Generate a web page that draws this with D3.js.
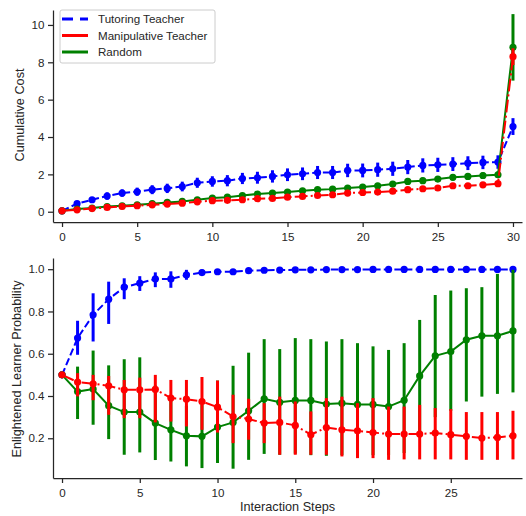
<!DOCTYPE html>
<html>
<head>
<meta charset="utf-8">
<script src="https://cdn.jsdelivr.net/npm/d3@7"></script>
<style>
  body { margin: 0; background: #fff; }
  text { font-family: "Liberation Sans", Arial, sans-serif; fill: #262626; }
</style>
</head>
<body>
<svg width="526" height="516"></svg>
<script>
// series names, legend order
const seriesNames = ["Tutoring Teacher", "Manipulative Teacher", "Random"];

// top panel: cumulative cost, steps 0..30
const costSteps = d3.range(31);
const costTutor = [0.05, 0.43, 0.64, 0.84, 1.0, 1.07, 1.18, 1.25, 1.35, 1.55, 1.62, 1.66, 1.78, 1.82, 1.89, 1.98,
  2.03, 2.1, 2.1, 2.21, 2.21, 2.25, 2.3, 2.39, 2.48, 2.51, 2.55, 2.6, 2.64, 2.66, 4.56];
const costTutorErr = [0, 0.1, 0.12, 0.2, 0.2, 0.22, 0.24, 0.25, 0.26, 0.27, 0.28, 0.3, 0.3, 0.32, 0.33, 0.34,
  0.34, 0.35, 0.35, 0.36, 0.37, 0.38, 0.38, 0.38, 0.38, 0.38, 0.37, 0.37, 0.36, 0.36, 0.45];
const costManip = [0.05, 0.1, 0.17, 0.23, 0.28, 0.32, 0.37, 0.41, 0.46, 0.53, 0.59, 0.61, 0.64, 0.7, 0.71, 0.78,
  0.82, 0.87, 0.91, 1.0, 1.03, 1.05, 1.1, 1.18, 1.23, 1.27, 1.39, 1.39, 1.44, 1.5, 8.3];
const costManipErr = [0, 0.03, 0.03, 0.04, 0.04, 0.04, 0.05, 0.05, 0.05, 0.05, 0.05, 0.05, 0.05, 0.06, 0.06, 0.06,
  0.06, 0.06, 0.06, 0.06, 0.07, 0.07, 0.07, 0.07, 0.07, 0.07, 0.07, 0.07, 0.07, 0.07, 0.45];
const costRandom = [0.05, 0.14, 0.2, 0.28, 0.32, 0.37, 0.43, 0.5, 0.55, 0.64, 0.73, 0.78, 0.87, 0.95, 1.0, 1.05,
  1.12, 1.18, 1.21, 1.27, 1.32, 1.39, 1.48, 1.62, 1.66, 1.75, 1.84, 1.89, 1.94, 1.98, 8.8];
const costRandomErr = [0, 0.05, 0.06, 0.07, 0.08, 0.08, 0.09, 0.1, 0.1, 0.11, 0.12, 0.12, 0.13, 0.13, 0.13, 0.14,
  0.14, 0.14, 0.15, 0.15, 0.15, 0.15, 0.16, 0.16, 0.16, 0.16, 0.16, 0.16, 0.17, 0.17, 1.78];

// bottom panel: enlightened learner probability, steps 0..29
const probSteps = d3.range(30);
const probTutor = [0.5, 0.674, 0.784, 0.858, 0.915, 0.934, 0.954, 0.954, 0.973, 0.984, 0.988, 0.988, 0.993, 0.995, 0.996,
  0.997, 0.997, 0.998, 0.998, 0.998, 0.999, 0.999, 0.999, 0.999, 0.999, 0.999, 0.999, 0.999, 0.999, 0.999];
const probTutorLo = [0.5, 0.595, 0.658, 0.741, 0.858, 0.897, 0.915, 0.912, 0.95, 0.97, 0.978, 0.978, 0.985, 0.99, 0.992,
  0.994, 0.994, 0.996, 0.996, 0.996, 0.998, 0.998, 0.998, 0.998, 0.998, 0.998, 0.998, 0.998, 0.998, 0.998];
const probTutorHi = [0.5, 0.756, 0.886, 0.941, 0.957, 0.967, 0.985, 0.99, 0.997, 0.998, 0.998, 0.998, 1, 1, 1,
  1, 1, 1, 1, 1, 1, 1, 1, 1, 1, 1, 1, 1, 1, 1];
const probManip = [0.5, 0.466, 0.458, 0.448, 0.429, 0.429, 0.431, 0.39, 0.385, 0.374, 0.347, 0.303, 0.291, 0.272, 0.275,
  0.261, 0.217, 0.251, 0.24, 0.235, 0.227, 0.22, 0.22, 0.22, 0.225, 0.217, 0.209, 0.201, 0.204, 0.212];
const probManipLo = [0.5, 0.398, 0.38, 0.311, 0.295, 0.295, 0.275, 0.279, 0.256, 0.24, 0.227, 0.177, 0.193, 0.177, 0.122,
  0.122, 0.122, 0.122, 0.114, 0.106, 0.106, 0.098, 0.1, 0.1, 0.1, 0.1, 0.098, 0.098, 0.098, 0.1];
const probManipHi = [0.5, 0.508, 0.5, 0.495, 0.476, 0.487, 0.5, 0.476, 0.476, 0.49, 0.473, 0.406, 0.387, 0.366, 0.397,
  0.374, 0.327, 0.39, 0.397, 0.366, 0.39, 0.35, 0.35, 0.358, 0.343, 0.338, 0.324, 0.324, 0.324, 0.33];
const probRandom = [0.5, 0.421, 0.433, 0.354, 0.324, 0.324, 0.272, 0.24, 0.212, 0.209, 0.253, 0.275, 0.33, 0.387, 0.37,
  0.379, 0.379, 0.362, 0.366, 0.36, 0.36, 0.35, 0.38, 0.495, 0.59, 0.61, 0.666, 0.685, 0.685, 0.708];
const probRandomLo = [0.5, 0.291, 0.264, 0.196, 0.122, 0.133, 0.097, 0.09, 0.067, 0.059, 0.083, 0.056, 0.098, 0.126, 0.122,
  0.127, 0.12, 0.117, 0.12, 0.12, 0.12, 0.12, 0.13, 0.23, 0.3, 0.33, 0.374, 0.397, 0.41, 0.417];
const probRandomHi = [0.5, 0.539, 0.615, 0.545, 0.574, 0.583, 0.45, 0.39, 0.354, 0.36, 0.473, 0.543, 0.605, 0.669, 0.622,
  0.674, 0.669, 0.658, 0.669, 0.65, 0.635, 0.618, 0.65, 0.76, 0.878, 0.899, 0.91, 0.915, 0.978, 0.997];

const costTicksX = [0, 5, 10, 15, 20, 25, 30];
const costTicksY = [0, 2, 4, 6, 8, 10];
const probTicksX = [0, 5, 10, 15, 20, 25];
const probTicksY = [0.2, 0.4, 0.6, 0.8, 1.0];

const svg = d3.select("svg");
const ink = "#262626";

const styles = {
  tutor:  { color: "#0000ff", dash: "7.4,3.2" },
  manip:  { color: "#ff0000", dash: "12.8,3.2,2,3.2" },
  random: { color: "#008000", dash: null }
};

// plot areas
const plotLeft = 53, plotRight = 522;
const upper = { y0: 10, y1: 222 };
const lower = { y0: 258, y1: 478 };

const scales = {
  costX: d3.scaleLinear().domain([-0.6, 30.6]).range([plotLeft, plotRight]),
  costY: d3.scaleLinear().domain([-0.55, 10.8]).range([upper.y1, upper.y0]),
  probX: d3.scaleLinear().domain([-0.58, 29.58]).range([plotLeft, plotRight]),
  probY: d3.scaleLinear().domain([0.012, 1.053]).range([lower.y1, lower.y0])
};

function zip(steps, mean, lo, hi) {
  return steps.map((s, i) => ({ x: s, y: mean[i], lo: lo[i], hi: hi[i] }));
}

const costSeries = [
  { style: styles.tutor,  data: zip(costSteps, costTutor, costTutor.map((v, i) => v - costTutorErr[i]), costTutor.map((v, i) => v + costTutorErr[i])) },
  { style: styles.random, data: zip(costSteps, costRandom, costRandom.map((v, i) => v - costRandomErr[i]), costRandom.map((v, i) => v + costRandomErr[i])) },
  { style: styles.manip,  data: zip(costSteps, costManip, costManip.map((v, i) => v - costManipErr[i]), costManip.map((v, i) => v + costManipErr[i])) }
];

const probSeries = [
  { style: styles.tutor,  data: zip(probSteps, probTutor, probTutorLo, probTutorHi) },
  { style: styles.random, data: zip(probSteps, probRandom, probRandomLo, probRandomHi) },
  { style: styles.manip,  data: zip(probSteps, probManip, probManipLo, probManipHi) }
];

function drawPanel(x, y, series, ticksX, ticksY, fmtY) {
  const g = svg.append("g");

  // series: line, then error bars, then markers
  series.forEach(function(s) {
    let line = d3.line().x(d => x(d.x)).y(d => y(d.y));
    g.append("path")
      .datum(s.data)
      .attr("d", line)
      .attr("fill", "none")
      .attr("stroke", s.style.color)
      .attr("stroke-width", 2)
      .attr("stroke-dasharray", s.style.dash);

    g.selectAll(null)
      .data(s.data.filter(d => d.hi > d.lo))
      .enter()
      .append("line")
      .attr("x1", d => x(d.x))
      .attr("x2", d => x(d.x))
      .attr("y1", d => y(d.lo))
      .attr("y2", d => y(d.hi))
      .attr("stroke", s.style.color)
      .attr("stroke-width", 3);

    g.selectAll(null)
      .data(s.data)
      .enter()
      .append("circle")
      .attr("cx", d => x(d.x))
      .attr("cy", d => y(d.y))
      .attr("r", 3.6)
      .attr("fill", s.style.color);
  });

  // axes
  let xAxis = g.append("g")
    .attr("transform", `translate(0,${y.range()[0]})`)
    .call(d3.axisBottom(x).tickValues(ticksX).tickSize(5).tickSizeOuter(0).tickPadding(6));
  let yAxis = g.append("g")
    .attr("transform", `translate(${plotLeft},0)`)
    .call(d3.axisLeft(y).tickValues(ticksY).tickFormat(fmtY).tickSize(5).tickSizeOuter(0).tickPadding(3.5));

  [xAxis, yAxis].forEach(function(a) {
    a.selectAll("path, line").attr("stroke", ink).attr("stroke-width", 1.25);
    a.selectAll("text").attr("font-size", "11.6px").attr("fill", ink)
      .style("font-family", '"Liberation Sans", Arial, sans-serif');
  });
  return g;
}

drawPanel(scales.costX, scales.costY, costSeries, costTicksX, costTicksY, d3.format("d"));
drawPanel(scales.probX, scales.probY, probSeries, probTicksX, probTicksY, d3.format(".1f"));

// axis labels
svg.append("text")
  .attr("transform", "translate(24,115) rotate(-90)")
  .attr("text-anchor", "middle")
  .attr("font-size", "12.7px")
  .text("Cumulative Cost");

svg.append("text")
  .attr("transform", "translate(21,369) rotate(-90)")
  .attr("text-anchor", "middle")
  .attr("font-size", "12.7px")
  .text("Enlightened Learner Probability");

svg.append("text")
  .attr("x", (plotLeft + plotRight) / 2)
  .attr("y", 511)
  .attr("text-anchor", "middle")
  .attr("font-size", "12.7px")
  .text("Interaction Steps");

// legend
const legend = svg.append("g");
legend.append("rect")
  .attr("x", 60).attr("y", 10)
  .attr("width", 155).attr("height", 53)
  .attr("rx", 2)
  .attr("fill", "#fff").attr("fill-opacity", 0.8)
  .attr("stroke", "#cccccc").attr("stroke-width", 1);

const legendStyles = [styles.tutor, styles.manip, styles.random];
seriesNames.forEach(function(name, i) {
  let yy = 19 + i * 16.5;
  legend.append("line")
    .attr("x1", 62).attr("x2", 88)
    .attr("y1", yy).attr("y2", yy)
    .attr("stroke", legendStyles[i].color)
    .attr("stroke-width", 3)
    .attr("stroke-dasharray", i === 0 ? "11,7" : null);
  legend.append("text")
    .attr("x", 98).attr("y", yy)
    .attr("dy", "0.35em")
    .attr("font-size", "11.6px")
    .text(name);
});
</script>
</body>
</html>
